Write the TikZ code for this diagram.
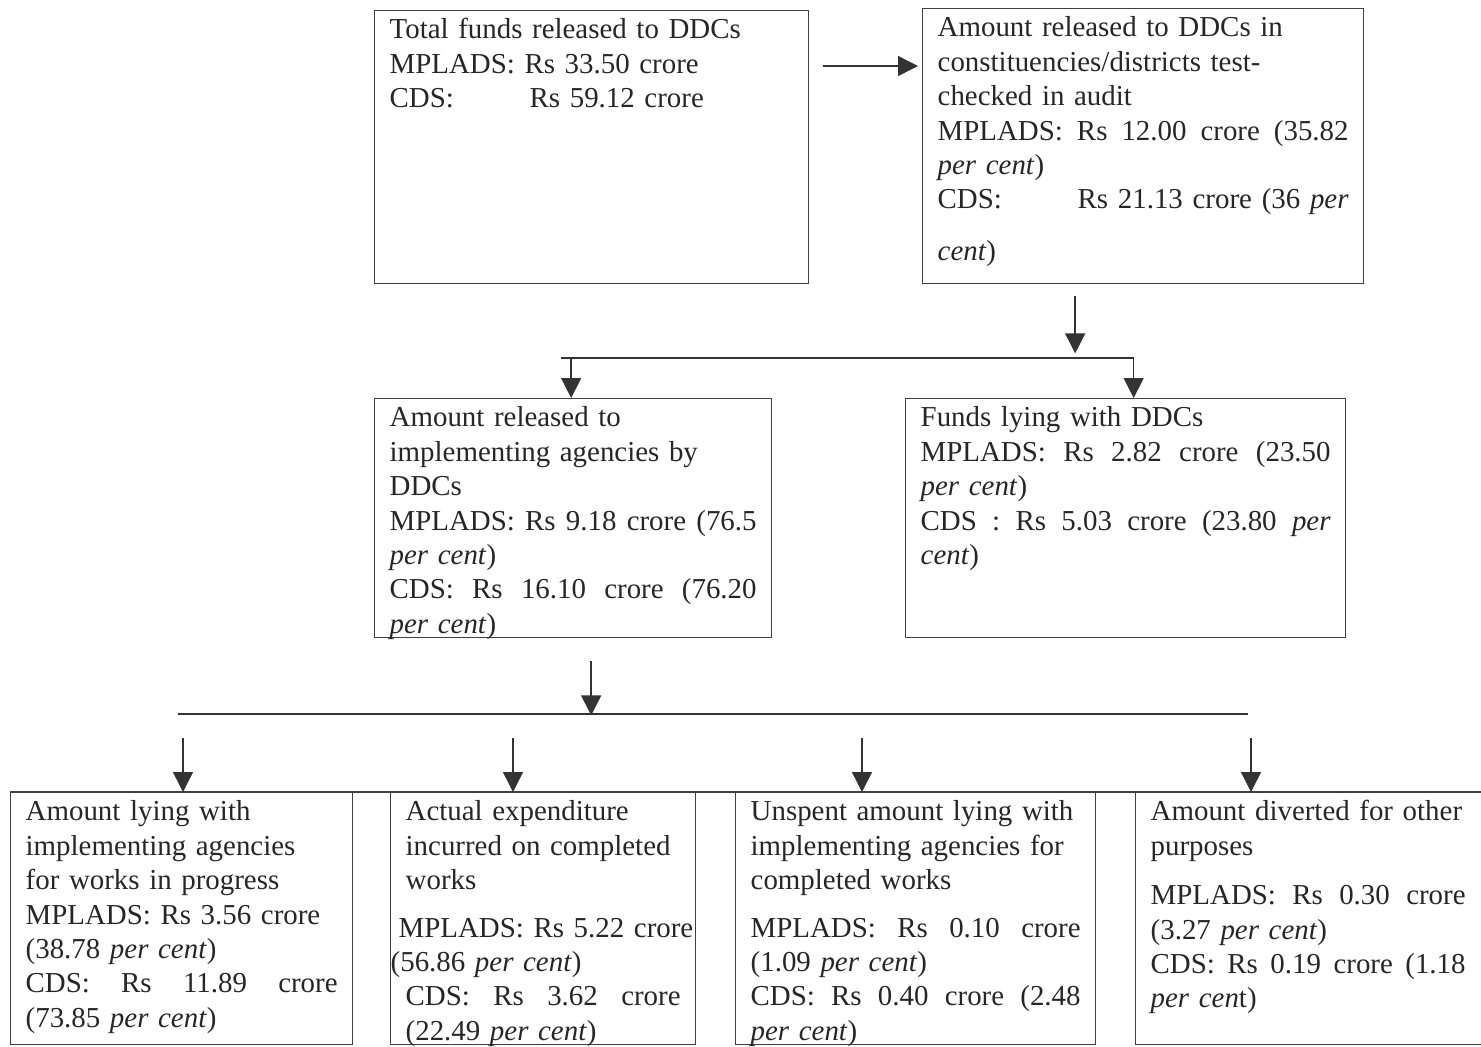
\documentclass[tikz,border=0pt]{standalone}
\usepackage{fontspec}
\setmainfont{Liberation Serif}
\usetikzlibrary{arrows.meta}
\newcommand\boxfont{\fontsize{16.45}{19.6}\selectfont}
\newcommand\cdstab[1]{\makebox[2.8cm][l]{#1}}
\newcommand\jline[2]{\leavevmode\hbox to #1{\spaceskip=0.25em plus 1fil\relax #2}}
\newcommand\lline[2]{\leavevmode\hbox to #1{#2\hss}}
\tikzset{
  box/.style={draw=black!75,line width=0.8pt,anchor=north west,inner xsep=0.3cm,inner ysep=0.06cm,
    text height=0.5cm,align=left,font=\boxfont,text=black!85},
  arr/.style={draw=black!80,line width=0.8pt,-{Triangle[length=0.4cm,width=0.4cm]}}
}
\begin{document}
\begin{tikzpicture}[x=0.02cm,y=-0.02cm]
\useasboundingbox (0,0) rectangle (1481,1046);
\node[box,text width=8.08cm,text depth=4.84cm] (total) at (374,10) {Total funds released to DDCs\\
  MPLADS: Rs 33.50 crore\\
  \cdstab{CDS:}Rs 59.12 crore};
\node[box,text width=8.22cm,text depth=4.88cm] (tested) at (922,8) {Amount released to DDCs in\\
  constituencies/districts test-\\
  checked in audit\\
  \jline{8.22cm}{MPLADS: Rs 12.00 crore (35.82}\\
  \textit{per cent})\\
  \jline{8.22cm}{\cdstab{CDS:}Rs 21.13 crore (36 \textit{per}}\\[0.34cm]
  \textit{cent})};
\node[box,text width=7.34cm,text depth=4.16cm] (released) at (374,398) {Amount released to\\
  implementing agencies by\\
  DDCs\\
  \jline{7.34cm}{MPLADS: Rs 9.18 crore (76.5}\\
  \textit{per cent})\\
  \jline{7.34cm}{CDS: Rs 16.10 crore (76.20}\\
  \textit{per cent})};
\node[box,text width=8.20cm,text depth=4.16cm] (lying) at (905,398) {Funds lying with DDCs\\
  \jline{8.2cm}{MPLADS: Rs 2.82 crore (23.50}\\
  \textit{per cent})\\
  \jline{8.2cm}{CDS : Rs 5.03 crore (23.80 \textit{per}}\\
  \textit{cent})};
\node[box,text width=6.24cm,text depth=4.42cm] (progress) at (10,792) {Amount lying with\\
  implementing agencies\\
  for works in progress\\
  MPLADS: Rs 3.56 crore\\
  (38.78 \textit{per cent})\\
  \jline{6.24cm}{CDS: Rs 11.89 crore}\\
  (73.85 \textit{per cent})};
\node[box,text width=5.50cm,text depth=4.42cm] (spent) at (390,792) {Actual expenditure\\
  incurred on completed\\
  works\\[0.26cm]
  \lline{5.5cm}{\hspace*{-0.14cm}MPLADS: Rs 5.22 crore}\\
  \lline{5.5cm}{\hspace*{-0.3cm}(56.86 \textit{per cent})}\\
  \jline{5.5cm}{CDS: Rs 3.62 crore}\\
  (22.49 \textit{per cent})};
\node[box,text width=6.60cm,text depth=4.42cm] (unspent) at (735,792) {Unspent amount lying with\\
  implementing agencies for\\
  completed works\\[0.26cm]
  \jline{6.6cm}{MPLADS: Rs 0.10 crore}\\
  (1.09 \textit{per cent})\\
  \jline{6.6cm}{CDS: Rs 0.40 crore (2.48}\\
  \textit{per cent})};
\node[box,text width=6.36cm,text depth=4.42cm] (diverted) at (1135,792) {Amount diverted for other\\
  purposes\\[0.3cm]
  \jline{6.3cm}{MPLADS: Rs 0.30 crore}\\
  (3.27 \textit{per cent})\\
  \jline{6.3cm}{CDS: Rs 0.19 crore (1.18}\\
  \textit{per cen}t)};
\draw[arr] ([shift={(14,56)}]total.north east) -- ([shift={(-4,58)}]tested.north west);
\draw[arr] ([shift={(-68,12)}]tested.south) -- ([shift={(-68,69)}]tested.south);
\draw[black!80,line width=0.8pt] ([shift={(-12,-40)}]released.north) -- ([shift={(8,-40)}]lying.north);
\draw[arr] ([shift={(-2,-40)}]released.north) -- ([shift={(-2,0)}]released.north);
\draw[arr] ([shift={(8,-40)}]lying.north) -- ([shift={(8,0)}]lying.north);
\draw[arr] ([shift={(18,23)}]released.south) -- ([shift={(18,77)}]released.south);
\draw[black!80,line width=0.8pt] ([shift={(168,-78)}]progress.north west) -- ([shift={(113,-78)}]diverted.north west);
\draw[black!75,line width=0.8pt] (progress.north west) -- (diverted.north east);
\foreach \n/\dx in {progress/173,spent/123,unspent/127,diverted/116}
  \draw[arr] ([shift={(\dx,-54)}]\n.north west) -- ([shift={(\dx,0)}]\n.north west);
\end{tikzpicture}
\end{document}
